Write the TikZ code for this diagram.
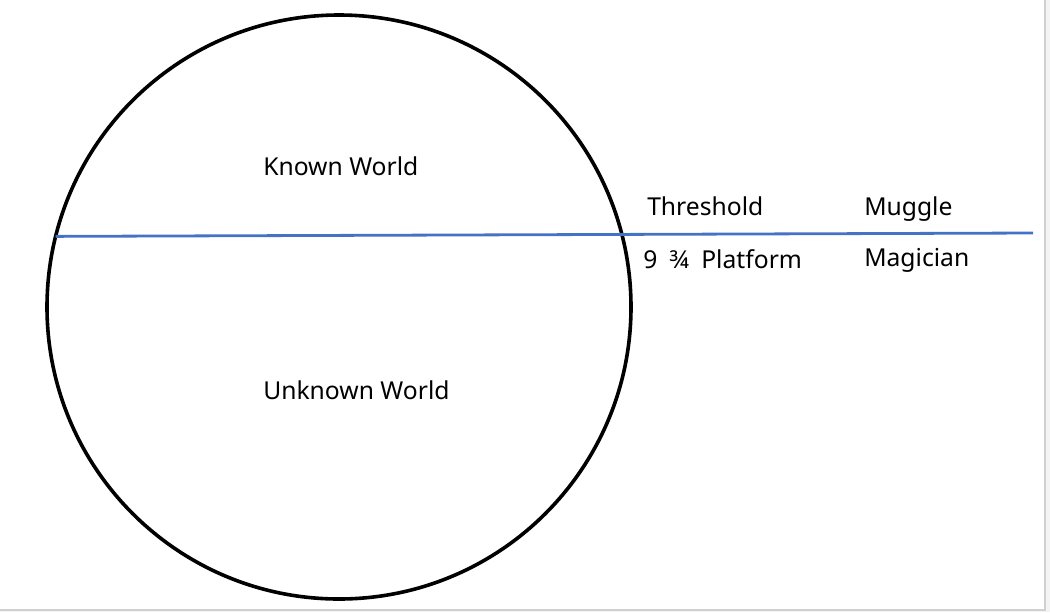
\documentclass[tikz,border=0pt]{standalone}
\usepackage{fontspec}
\setmainfont{Noto Sans}
\usetikzlibrary{positioning}
\definecolor{lineblue}{HTML}{4472C4}
\definecolor{edgegray}{HTML}{D0D0D0}
\definecolor{padgray}{HTML}{F4F4F4}
\tikzset{
  world/.style={circle, draw=black, line width=2.7pt, minimum size=584*0.75pt, inner sep=0pt, outer sep=0pt},
  label/.style={anchor=base west, inner sep=0pt, font=\fontsize{18.5}{22}\selectfont},
  divide/.style={draw=lineblue, line width=2.1pt}
}

\begin{document}
\begin{tikzpicture}[x=0.75pt, y=-0.75pt]
  \useasboundingbox (0,0) rectangle (1050,612);
  % frame of the screenshot
  \fill[padgray] (1045,0) rectangle (1050,612);
  \fill[padgray] (0,610) rectangle (1050,612);
  \draw[edgegray, line width=0.9pt] (1045,0) -- (1045,610) -- (0,610);

  \node[world] (globe) at (339,307) {};
  \coordinate (lineend) at (1033,233);

  \node[label] (known) at (263,175) {Known World};
  \node[label] (unknown) at (263,399) {Unknown World};
  \node[label] (threshold) at (647,215) {Threshold};
  \node[label] (platform) at (643,268) {9\hspace{0.5em}¾\hspace{0.5em}Platform};
  \node[label] (muggle) at (864,215) {Muggle};
  \node[label] (magician) at (864,266) {Magician};

  \draw[divide] (globe.166.5) -- (lineend);
\end{tikzpicture}
\end{document}
